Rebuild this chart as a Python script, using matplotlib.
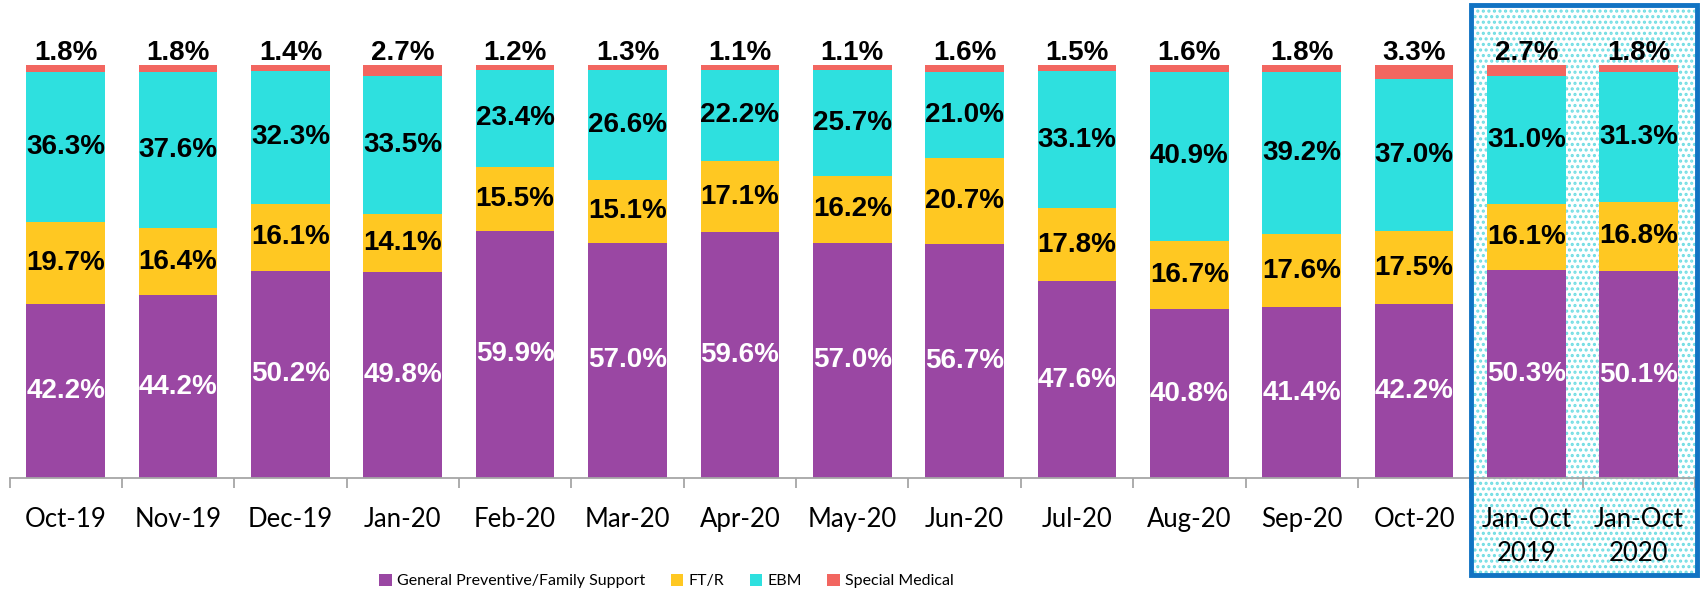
import numpy as np
import matplotlib.pyplot as plt
from matplotlib.patches import Rectangle

# data (percent)
categories = ["Oct-19", "Nov-19", "Dec-19", "Jan-20", "Feb-20", "Mar-20", "Apr-20",
              "May-20", "Jun-20", "Jul-20", "Aug-20", "Sep-20", "Oct-20",
              "Jan-Oct\n2019", "Jan-Oct\n2020"]
general = [42.2, 44.2, 50.2, 49.8, 59.9, 57.0, 59.6, 57.0, 56.7, 47.6, 40.8, 41.4, 42.2, 50.3, 50.1]
ftr = [19.7, 16.4, 16.1, 14.1, 15.5, 15.1, 17.1, 16.2, 20.7, 17.8, 16.7, 17.6, 17.5, 16.1, 16.8]
ebm = [36.3, 37.6, 32.3, 33.5, 23.4, 26.6, 22.2, 25.7, 21.0, 33.1, 40.9, 39.2, 37.0, 31.0, 31.3]
special = [1.8, 1.8, 1.4, 2.7, 1.2, 1.3, 1.1, 1.1, 1.6, 1.5, 1.6, 1.8, 3.3, 2.7, 1.8]

series = [
    ("General Preventive/Family Support", general, "#9A47A3", "white"),
    ("FT/R", ftr, "#FFC822", "black"),
    ("EBM", ebm, "#2EE0DF", "black"),
    ("Special Medical", special, "#F26660", "black"),
]

plt.rcParams['font.family'] = ['Lato', 'DejaVu Sans']
plt.rcParams['hatch.linewidth'] = 1.5

W, H = 1700, 596
fig = plt.figure(figsize=(W / 100, H / 100), dpi=100)
ax = fig.add_axes([9.5 / W, 1 - 478 / H, (1695 - 9.5) / W, (478 - 65) / H])
ax.patch.set_alpha(0)

# highlighted box for the year-to-date bars
box = (1471 / W, 1 - 575 / H, (1697 - 1471) / W, (575 - 5) / H)
fig.add_artist(Rectangle((box[0] + 3 / W, box[1] - 3 / H), box[2], box[3],
                         transform=fig.transFigure, facecolor="#D0D0D0",
                         edgecolor="none", zorder=-3))
fig.add_artist(Rectangle(box[:2], box[2], box[3], transform=fig.transFigure,
                         facecolor="white", edgecolor="none", zorder=-2))
fig.add_artist(Rectangle(box[:2], box[2], box[3], transform=fig.transFigure,
                         facecolor="none", edgecolor="#6FDDE3", hatch="...",
                         linewidth=0, zorder=-1))
fig.add_artist(Rectangle(box[:2], box[2], box[3], transform=fig.transFigure,
                         facecolor="none", edgecolor="#1173C3", linewidth=3.5, zorder=5))

x = np.arange(len(categories))
bottom = np.zeros(len(categories))
for name, vals, color, tcol in series:
    vals = np.array(vals)
    ax.bar(x, vals, 0.7, bottom=bottom, color=color, label=name, zorder=2)
    for xi, b, v in zip(x, bottom, vals):
        if name == "Special Medical":
            ax.text(xi, b + v - 0.3, f"{v:.1f}%", ha="center", va="bottom",
                    fontsize=20, fontweight="bold", family="Liberation Sans", color=tcol)
        else:
            ax.text(xi, b + v / 2, f"{v:.1f}%", ha="center", va="center",
                    fontsize=20, fontweight="bold", family="Liberation Sans", color=tcol)
    bottom += vals

ax.set_xlim(-0.5, len(categories) - 0.5)
ax.set_ylim(0, 100)
ax.set_yticks([])
for s in ["top", "left", "right"]:
    ax.spines[s].set_visible(False)
ax.spines["bottom"].set_color("#A6A6A6")
ax.spines["bottom"].set_linewidth(1.3)

ax.set_xticks(x)
ax.set_xticklabels(categories, fontsize=18.5, linespacing=1.45)
ax.tick_params(axis="x", which="major", length=0, pad=21)
ax.set_xticks(np.arange(-0.5, len(categories)), minor=True)
ax.tick_params(axis="x", which="minor", length=7, width=1.3, color="#A6A6A6", direction="out")

ax.legend(loc="center", bbox_to_anchor=(0.392, 0.025), bbox_transform=fig.transFigure,
          ncol=4, frameon=False, fontsize=11.5,
          handlelength=0.8, handleheight=0.8, handletextpad=0.3, columnspacing=1.6)

fig.savefig("out.png", dpi=100)
